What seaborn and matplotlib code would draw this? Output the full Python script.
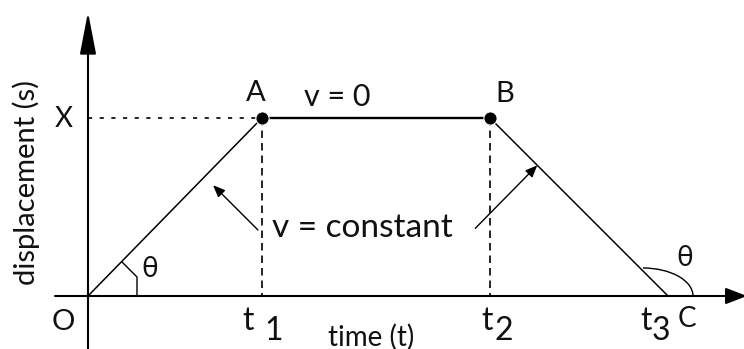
import matplotlib
matplotlib.use('Agg')
from matplotlib import pyplot as plt
from matplotlib.patches import Arc
import seaborn as sns

# displacement-time graph: O -> A (rise), A -> B (rest), B -> C (return)
t_points = [0, 3.0, 6.93, 10.0]      # O, t1, t2, t3
s_points = [0, 3.07, 3.07, 0]        # displacement at those times
point_names = ['O', 'A', 'B', 'C']
tick_digits = ['1', '2', '3']

sns.set_style('white')
plt.rcParams['font.family'] = ['Lato', 'Open Sans', 'DejaVu Sans']

PX = 58.0          # pixels per data unit
OX, OY = 88, 296   # pixel position of the origin


def px(x, y):
    # pixel position in the picture -> data coords (for decorations only)
    return ((x - OX) / PX, (OY - y) / PX)


def pt(p):
    return p * 72 / 100.0  # pixel offset -> points at dpi 100


fig = plt.figure(figsize=(7.44, 3.49), dpi=100)
ax = fig.add_axes([0, 0, 1, 1])
ax.set_xlim(px(0, 0)[0], px(744, 0)[0])
ax.set_ylim(px(0, 349)[1], px(0, 0)[1])
ax.axis('off')

# axes with arrow heads
ax.annotate('', xy=px(88, 12), xytext=px(88, 349), annotation_clip=False,
            arrowprops=dict(arrowstyle='-|>,head_length=2.6,head_width=0.5', mutation_scale=10,
                            lw=1.5, color='black', shrinkA=0, shrinkB=0))
ax.annotate('', xy=px(747, 296), xytext=px(55, 296), annotation_clip=False,
            arrowprops=dict(arrowstyle='-|>,head_length=1.3,head_width=0.5', mutation_scale=10,
                            lw=1.5, color='black', shrinkA=0, shrinkB=0))

# the graph itself
sns.lineplot(x=t_points, y=s_points, color='black', lw=1.1, ax=ax, sort=False)
sns.lineplot(x=t_points[1:3], y=s_points[1:3], color='black', lw=1.7, ax=ax, sort=False)
sns.scatterplot(x=t_points[1:3], y=s_points[1:3], color='black', s=90, ax=ax, zorder=5)

t1, t2, t3 = t_points[1], t_points[2], t_points[3]
X = s_points[1]

# guide lines
ax.plot([0, t1], [X, X], color='black', lw=1.2, dashes=(2.5, 4.5))
for tx in (t1, t2):
    ax.plot([tx, tx], [X, 0], color='black', lw=1.2, dashes=(4.5, 3))

# angle marks
ax.plot(*zip(px(122, 262), px(137, 277), px(137, 296)), color='black', lw=1)
ax.add_patch(Arc(px(643, 296), 100 / PX, 56 / PX, theta1=0, theta2=90, color='black', lw=1))

# arrows pointing at the sloped segments
ax.annotate('', xy=(0.67 * t1, 0.67 * X), xytext=(pt(53.4), pt(-53.3)), textcoords='offset points',
            arrowprops=dict(arrowstyle='-|>,head_length=0.6,head_width=0.25', mutation_scale=12,
                            lw=1, color='black', shrinkA=0, shrinkB=pt(12)))
ax.annotate('', xy=(t2 + 0.266 * (t3 - t2), X * (1 - 0.266)), xytext=(pt(-62), pt(-63)),
            textcoords='offset points',
            arrowprops=dict(arrowstyle='-|>,head_length=0.6,head_width=0.25', mutation_scale=12,
                            lw=1, color='black', shrinkA=0, shrinkB=0))


def label(txt, xy, dx, dy, size, **kw):
    ax.annotate(txt, xy=xy, xytext=(pt(dx), pt(dy)), textcoords='offset points', annotation_clip=False,
                ha=kw.pop('ha', 'center'), va=kw.pop('va', 'center'), fontsize=size, color='#111111', **kw)


label(point_names[1], (t1, X), -6, 25, 21)
label(point_names[2], (t2, X), 15, 24, 21)
label(point_names[0], (0, 0), -25, -26, 21)
label(point_names[3], (t3, 0), 19, -23, 20)
label('X', (0, X), -24, -1, 20)
label('v = 0', ((t1 + t2) / 2, X), -39, 21, 22)
label('v = constant', (t1, 0), 10, 59, 24, ha='left', va='baseline')
label('θ', (0, 0), 62, 27, 20)
label('θ', (t3, 0), 17, 38, 20)
label('time (t)', ((t1 + t2) / 2, 0), -5, -41, 20)

# tick labels t1, t2, t3 (subscript drawn as large as the t)
t_dx = [-14, -3, -22]
d_dx = [12, 14, -7]
for tx, dig, a, b in zip(t_points[1:], tick_digits, t_dx, d_dx):
    label('t', (tx, 0), a, -25, 23)
    label(dig, (tx, 0), b, -35, 23)

ax.text(0.035, 0.478, 'displacement (s)', transform=ax.transAxes, rotation=90,
        ha='center', va='center', fontsize=21, color='#111111')

plt.savefig('out.png', dpi=100)
